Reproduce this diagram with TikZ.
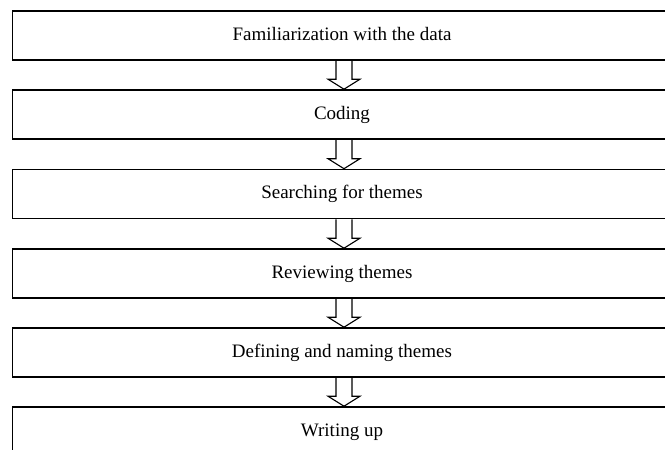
\documentclass[tikz,border=0pt]{standalone}
\usepackage{fontspec}
\setmainfont{Liberation Serif}
\begin{document}
\begin{tikzpicture}[x=1pt,y=-1pt,
  stage/.style={draw=black, line width=1.6pt, rectangle, minimum width=659pt, minimum height=49pt,
    inner sep=0pt, font=\fontsize{19}{22}\selectfont, text height=13pt, text depth=4pt},
  blk/.style={draw=black, line width=1.1pt, line join=miter}]
\useasboundingbox (0,0) rectangle (665,450);
\clip (0,0) rectangle (665,450);
\node[stage] (b1) at (342,35.5) {Familiarization with the data};
\node[stage] (b2) at (342,114.5) {Coding};
\node[stage] (b3) at (342,194) {Searching for themes};
\node[stage] (b4) at (342,273.5) {Reviewing themes};
\node[stage] (b5) at (342,352.5) {Defining and naming themes};
\node[stage] (b6) at (342,431.5) {Writing up};
\foreach \a/\b in {b1/b2,b2/b3,b3/b4,b4/b5,b5/b6}{
  \draw[blk] ([xshift=-6pt]\a.south) -- ([xshift=-6pt,yshift=10pt]\b.north)
    -- ([xshift=-14pt,yshift=10pt]\b.north) -- ([xshift=2pt]\b.north)
    -- ([xshift=18pt,yshift=10pt]\b.north) -- ([xshift=10pt,yshift=10pt]\b.north)
    -- ([xshift=10pt]\a.south);
}
\end{tikzpicture}
\end{document}
